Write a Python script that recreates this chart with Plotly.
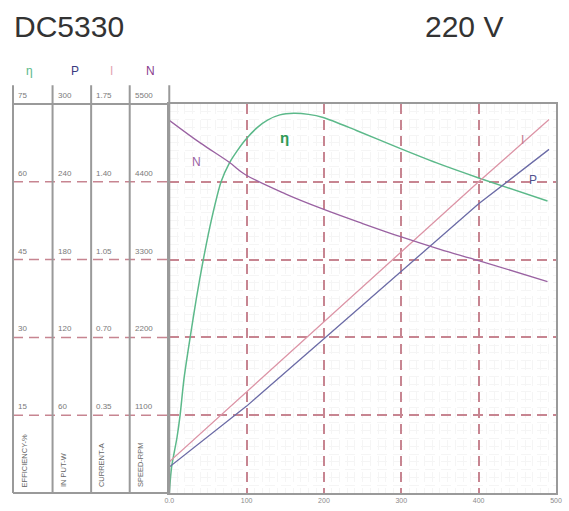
import plotly.graph_objects as go

# ---- data ----
load_eff = [0, 3, 10, 14, 19, 27, 35, 44, 55, 67, 78, 88, 98, 114, 127, 143, 161, 180, 199, 242, 299, 350, 401, 489]
efficiency = [0, 5, 10.7, 15, 22, 30, 37.5, 45, 53, 60, 63.7, 66, 68, 70.5, 71.9, 72.9, 73.2, 73.0, 72.4, 69.9, 66.4, 63.4, 60.7, 56.3]

load_speed = [0, 40, 78, 98, 150, 199, 250, 300, 350, 401, 489]
speed = [5270, 4950, 4672, 4504, 4230, 4013, 3810, 3620, 3445, 3283, 2989]

load_lin = [0, 100, 200, 300, 400, 491]
current = [0.14, 0.455, 0.77, 1.085, 1.40, 1.68]
power = [20, 67, 119, 171, 223, 265]

x_ticks = [0, 100, 200, 300, 400, 500]
x_tick_text = ["0.0", "100", "200", "300", "400", "500"]

eff_ticks = [15, 30, 45, 60, 75]
eff_labels = ["15", "30", "45", "60", "75"]
pow_ticks = [60, 120, 180, 240, 300]
pow_labels = ["60", "120", "180", "240", "300"]
cur_ticks = [0.35, 0.70, 1.05, 1.40, 1.75]
cur_labels = ["0.35", "0.70", "1.05", "1.40", "1.75"]
spd_ticks = [1100, 2200, 3300, 4400, 5500]
spd_labels = ["1100", "2200", "3300", "4400", "5500"]

column_names = ["EFFICIENCY-%", "IN PUT-W", "CURRENT-A", "SPEED-RPM"]
column_symbols = ["η", "P", "I", "N"]

# ---- styling ----
C_EFF = "#5cb98a"
C_PWR = "#6b6ba6"
C_CUR = "#dc94a6"
C_SPD = "#9a62a2"
C_DASH = "#c78591"
C_FRAME = "#9a9a9a"
C_MINOR = "#f5f5f5"
DASH = "10px,6px"
FONT = "Liberation Sans, Arial, sans-serif"

W, H = 569, 511
ML, MR, MT, MB = 13, 7, 104, 15
PW = W - ML - MR
PH = H - MT - MB


def px(xpix):
    return (xpix - ML) / PW


def py(ypix):
    return (H - MB - ypix) / PH


col_lines = [13, 53, 92, 131, 171]
x_start = px(171)

fig = go.Figure()

fig.add_trace(go.Scatter(x=load_speed, y=speed, yaxis="y4", mode="lines",
                         line=dict(color=C_SPD, width=1.3, shape="spline"), name="N"))
fig.add_trace(go.Scatter(x=load_lin, y=current, yaxis="y3", mode="lines",
                         line=dict(color=C_CUR, width=1.3), name="I"))
fig.add_trace(go.Scatter(x=load_lin, y=power, yaxis="y2", mode="lines",
                         line=dict(color=C_PWR, width=1.3), name="P"))
fig.add_trace(go.Scatter(x=load_eff, y=efficiency, yaxis="y", mode="lines",
                         line=dict(color=C_EFF, width=1.5, shape="spline", smoothing=0.7), name="η"))

shapes = []
# dashed guides continued across the scale columns
for v in eff_ticks[:-1]:
    shapes.append(dict(type="line", xref="paper", yref="y", x0=0, x1=x_start, y0=v, y1=v,
                       line=dict(color=C_DASH, width=1.5, dash=DASH)))
# scale-column frame
for cx in col_lines:
    shapes.append(dict(type="line", xref="paper", yref="paper", x0=px(cx), x1=px(cx),
                       y0=0, y1=py(85), line=dict(color=C_FRAME, width=2)))
shapes.append(dict(type="line", xref="paper", yref="paper", x0=0, x1=x_start, y0=1, y1=1,
                   line=dict(color=C_FRAME, width=2)))
shapes.append(dict(type="line", xref="paper", yref="paper", x0=0, x1=x_start, y0=0, y1=0,
                   line=dict(color=C_FRAME, width=2)))

annotations = []
scales = [(eff_ticks, eff_labels, "y"), (pow_ticks, pow_labels, "y2"),
          (cur_ticks, cur_labels, "y3"), (spd_ticks, spd_labels, "y4")]
for i, (vals, labs, yr) in enumerate(scales):
    for v, t in zip(vals, labs):
        annotations.append(dict(x=px(col_lines[i] + 3), y=v, xref="paper", yref=yr,
                                text=t, showarrow=False, xanchor="left", yanchor="bottom",
                                yshift=2, font=dict(size=8, color="#7a7a7a", family=FONT)))

name_x = [25, 64, 102, 142]
for nx, nm in zip(name_x, column_names):
    annotations.append(dict(x=px(nx), y=py(492), xref="paper", yref="paper", text=nm,
                            textangle=-90, showarrow=False, xanchor="center", yanchor="bottom",
                            font=dict(size=7.5, color="#666666", family=FONT)))

sym_x = [30, 76, 113, 152]
sym_col = [C_EFF, "#3a3a80", "#e3a3b3", "#8a3d8e"]
for sx, s, c in zip(sym_x, column_symbols, sym_col):
    annotations.append(dict(x=px(sx), y=py(71), xref="paper", yref="paper", text=s,
                            showarrow=False, xanchor="center", yanchor="middle",
                            font=dict(size=12, color=c, family=FONT)))

# curve tags
annotations += [
    dict(x=px(287), y=py(127), xref="paper", yref="paper", text="<b>η</b>", showarrow=False,
         font=dict(size=15, color="#2f9a55", family=FONT)),
    dict(x=px(192), y=py(153), xref="paper", yref="paper", text="N", showarrow=False,
         font=dict(size=12, color=C_SPD, family=FONT)),
    dict(x=px(532), y=py(131), xref="paper", yref="paper", text="I", showarrow=False,
         font=dict(size=12, color="#c57a8e", family=FONT)),
    dict(x=px(545), y=py(172), xref="paper", yref="paper", text="P", showarrow=False,
         font=dict(size=12, color="#52528e", family=FONT)),
]

# headings
annotations += [
    dict(x=px(12), y=py(26), xref="paper", yref="paper", text="DC5330", showarrow=False,
         xanchor="left", yanchor="middle",
         font=dict(size=30, color="#333333", family=FONT)),
    dict(x=px(428), y=py(26), xref="paper", yref="paper", text="220 V", showarrow=False,
         xanchor="left", yanchor="middle",
         font=dict(size=30, color="#333333", family=FONT)),
]

hidden = dict(overlaying="y", showgrid=False, showticklabels=False,
              zeroline=False, showline=False, ticks="")

fig.update_layout(
    width=W, height=H,
    margin=dict(l=ML, r=MR, t=MT, b=MB),
    paper_bgcolor="white",
    plot_bgcolor="white",
    showlegend=False,
    font=dict(family=FONT),
    xaxis=dict(domain=[x_start, 1], range=[0, 500], tickvals=x_ticks, ticktext=x_tick_text,
               showgrid=True, gridcolor=C_DASH, gridwidth=1.5, griddash=DASH,
               minor=dict(dtick=10, showgrid=True, gridcolor=C_MINOR, gridwidth=1),
               zeroline=False, showline=True, mirror=True, linecolor=C_FRAME, linewidth=2,
               ticks="", tickfont=dict(size=7, color="#8a8a8a")),
    yaxis=dict(range=[0, 75], tickvals=eff_ticks[:-1], showgrid=True, gridcolor=C_DASH,
               gridwidth=1.5, griddash=DASH, showticklabels=False, zeroline=False,
               minor=dict(dtick=1.5, showgrid=True, gridcolor=C_MINOR, gridwidth=1),
               showline=True, mirror=True, linecolor=C_FRAME, linewidth=2, ticks=""),
    yaxis2={**hidden, "range": [0, 300]},
    yaxis3={**hidden, "range": [0, 1.75]},
    yaxis4={**hidden, "range": [0, 5500]},
    shapes=shapes,
    annotations=annotations,
)

fig.write_html("out.html")
